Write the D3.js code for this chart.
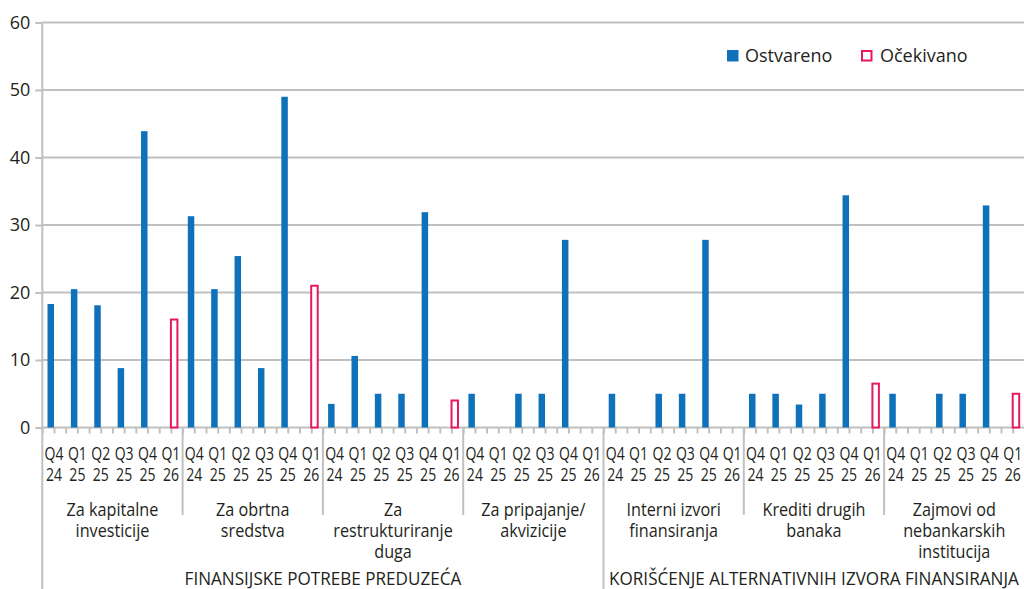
<!DOCTYPE html>
<html>
<head>
<meta charset="utf-8">
<script src="https://cdn.jsdelivr.net/npm/d3@7"></script>
<style>
  body { margin: 0; background: #fff; }
  text { font-family: "Open Sans", "Noto Sans", sans-serif; fill: #231f20; font-weight: 400; }
</style>
</head>
<body>
<svg id="chart" width="1024" height="589"></svg>
<script>
// Quarter labels shown under every group (two lines each)
const quarters = ["Q4 24", "Q1 25", "Q2 25", "Q3 25", "Q4 25", "Q1 26"];

// Group labels, split into lines
const groupLabels = [
  ["Za kapitalne", "investicije"],
  ["Za obrtna", "sredstva"],
  ["Za", "restrukturiranje", "duga"],
  ["Za pripajanje/", "akvizicije"],
  ["Interni izvori", "finansiranja"],
  ["Krediti drugih", "banaka"],
  ["Zajmovi od", "nebankarskih", "institucija"]
];

// Section titles and the groups they span (first, last)
const sectionLabels = ["FINANSIJSKE POTREBE PREDUZEĆA", "KORIŠĆENJE ALTERNATIVNIH IZVORA FINANSIRANJA"];
const sectionSpans = [[0, 3], [4, 6]];

const seriesNames = ["Ostvareno", "Očekivano"];

// Realised values (%), one row per group, one value per quarter
const ostvareno = [
  [18.3, 20.5, 18.1, 8.8, 43.9, null],
  [31.3, 20.5, 25.4, 8.8, 49.0, null],
  [3.5, 10.6, 5.0, 5.0, 31.9, null],
  [5.0, 0, 5.0, 5.0, 27.8, null],
  [5.0, 0, 5.0, 5.0, 27.8, null],
  [5.0, 5.0, 3.4, 5.0, 34.4, null],
  [5.0, 0, 5.0, 5.0, 32.9, null]
];

// Expected values (%) for Q1 26, one per group
const ocekivano = [16.0, 21.0, 4.0, null, null, 6.5, 5.0];

const yTicks = [0, 10, 20, 30, 40, 50, 60];

const colors = { blue: "#0f71ba", pink: "#e8185f", grid: "#c0c0c0" };

const svg = d3.select("#chart");
const plotLeft = 42.3, plotRight = 1024.4, plotTop = 22.5, plotBase = 427.5;

const y = d3.scaleLinear().domain([0, 60]).range([plotBase, plotTop]);
const xGroup = d3.scaleBand().domain(d3.range(groupLabels.length)).range([plotLeft, plotRight]).padding(0);
const xQuarter = d3.scaleBand().domain(quarters).range([0, xGroup.bandwidth()]).padding(0);
const xSeries = d3.scaleBand().domain(seriesNames).range([0, xQuarter.bandwidth()])
  .paddingInner(0).paddingOuter(0.8);

// Horizontal grid + left ticks
const yAxis = d3.axisLeft(y).tickValues(yTicks).tickSize(7).tickPadding(5).tickFormat(d3.format("d"));
const gy = svg.append("g").attr("transform", `translate(${plotLeft},0)`).call(yAxis);
gy.select(".domain").remove();
gy.selectAll(".tick line").attr("stroke", colors.grid).attr("stroke-width", 2);
gy.selectAll(".tick text").style("font-size", "18px").attr("fill", "#231f20");
svg.append("g").selectAll("line").data(yTicks).join("line")
  .attr("x1", plotLeft).attr("x2", 1024)
  .attr("y1", d => y(d)).attr("y2", d => y(d))
  .attr("stroke", colors.grid).attr("stroke-width", 2);

// Category ticks under the baseline: slot boundaries and slot centres
const nSlots = groupLabels.length * quarters.length;
const xSlot = d3.scaleLinear().domain([0, nSlots]).range([plotLeft, plotRight]);
const xAxis = d3.axisBottom(xSlot).tickValues(d3.range(0, nSlots + 0.01, 0.5)).tickSize(6).tickFormat("");
const gx = svg.append("g").attr("transform", `translate(0,${plotBase})`).call(xAxis);
gx.select(".domain").remove();
gx.selectAll(".tick line").attr("stroke", colors.grid).attr("stroke-width", 2);

// Left axis line, running down through the label area
svg.append("line").attr("x1", plotLeft).attr("x2", plotLeft).attr("y1", plotTop).attr("y2", 589)
  .attr("stroke", colors.grid).attr("stroke-width", 2);

// Group separators (long one between the two sections)
const separators = d3.range(1, groupLabels.length);
svg.append("g").selectAll("line").data(separators).join("line")
  .attr("x1", d => xGroup(d)).attr("x2", d => xGroup(d))
  .attr("y1", plotBase)
  .attr("y2", d => sectionSpans.some(s => s[0] === d) ? 589 : 515)
  .attr("stroke", colors.grid).attr("stroke-width", 2);

// Bars
const groupsG = svg.append("g").selectAll("g").data(groupLabels).join("g")
  .attr("transform", (d, i) => `translate(${xGroup(i)},0)`);

groupsG.each(function (lbl, gi) {
  const g = d3.select(this);
  const realised = ostvareno[gi].map((v, qi) => ({ q: quarters[qi], v })).filter(d => d.v);
  g.selectAll("rect.real").data(realised).join("rect")
    .attr("class", "real")
    .attr("x", d => xQuarter(d.q) + xSeries("Ostvareno"))
    .attr("width", xSeries.bandwidth())
    .attr("y", d => y(d.v))
    .attr("height", d => plotBase - y(d.v))
    .attr("fill", colors.blue);

  const exp = ocekivano[gi] == null ? [] : [{ q: quarters[quarters.length - 1], v: ocekivano[gi] }];
  g.selectAll("rect.exp").data(exp).join("rect")
    .attr("class", "exp")
    .attr("x", d => xQuarter(d.q) + xSeries("Očekivano"))
    .attr("width", xSeries.bandwidth())
    .attr("y", d => y(d.v))
    .attr("height", d => plotBase - y(d.v))
    .attr("fill", "#fff")
    .attr("stroke", colors.pink).attr("stroke-width", 2);
});

// Text helper: centred, horizontally condensed label
function label(parent, x, yPos, str, sx, size) {
  parent.append("text")
    .attr("transform", `translate(${x},${yPos}) scale(${sx},1)`)
    .attr("text-anchor", "middle")
    .style("font-size", size + "px")
    .text(str);
}

// Quarter labels
const labelsG = svg.append("g");
groupLabels.forEach((lbl, gi) => {
  quarters.forEach(q => {
    const cx = xGroup(gi) + xQuarter(q) + xQuarter.bandwidth() / 2;
    const parts = q.split(" ");
    label(labelsG, cx, 459.5, parts[0], 0.78, 18);
    label(labelsG, cx, 481, parts[1], 0.78, 18);
  });
  const gcx = xGroup(gi) + xGroup.bandwidth() / 2;
  lbl.forEach((line, li) => label(labelsG, gcx, 516 + li * 21, line, 0.9, 18));
});

// Section titles
sectionLabels.forEach((s, si) => {
  const [a, b] = sectionSpans[si];
  const cx = (xGroup(a) + xGroup(b) + xGroup.bandwidth()) / 2;
  label(labelsG, cx, 585, s, 0.95, 18);
});

// Legend
const legend = svg.append("g");
legend.append("rect").attr("x", 727).attr("y", 50).attr("width", 11.5).attr("height", 11.5).attr("fill", colors.blue);
legend.append("text").attr("x", 745).attr("y", 62).style("font-size", "18px").text(seriesNames[0]);
legend.append("rect").attr("x", 862).attr("y", 51).attr("width", 9.5).attr("height", 9.5)
  .attr("fill", "#fff").attr("stroke", colors.pink).attr("stroke-width", 2);
legend.append("text").attr("x", 880).attr("y", 62).style("font-size", "18px").text(seriesNames[1]);
</script>
</body>
</html>
